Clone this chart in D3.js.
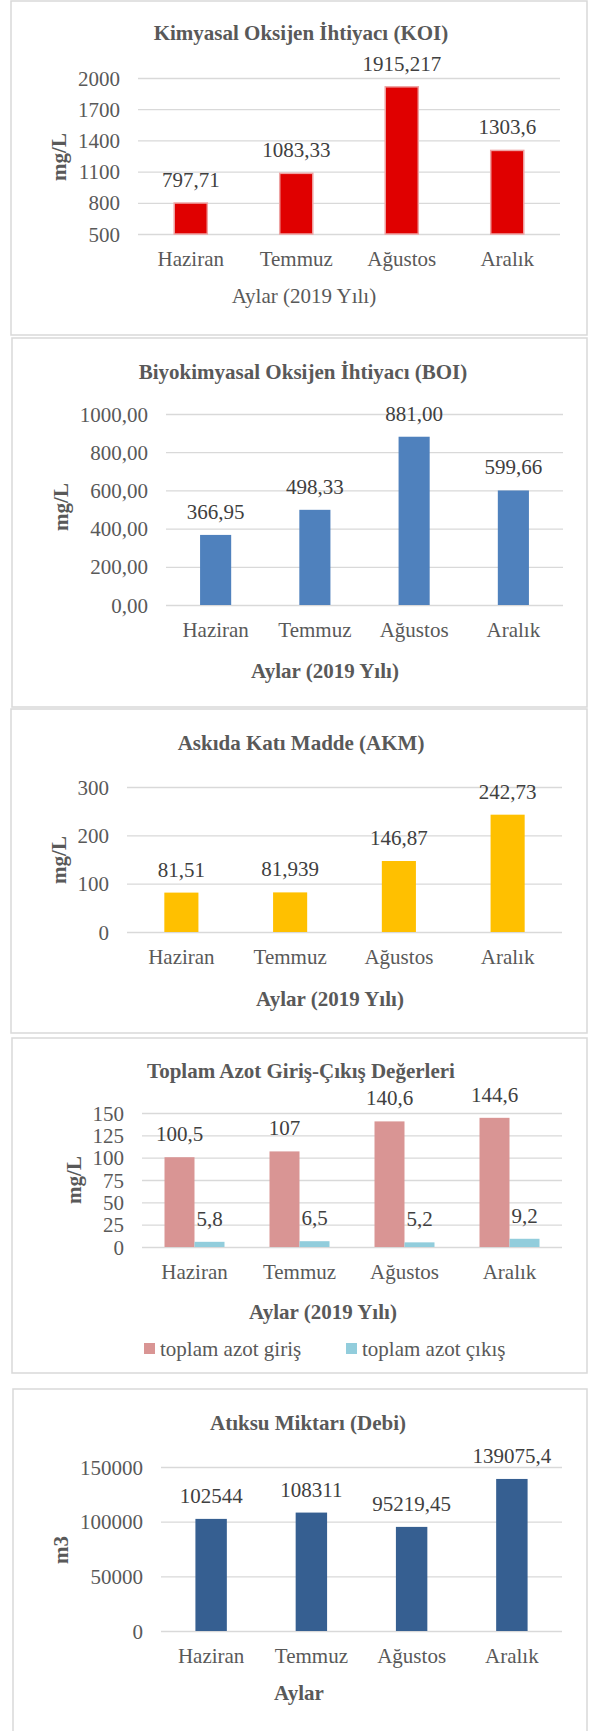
<!DOCTYPE html>
<html>
<head>
<meta charset="utf-8">
<script src="https://cdn.jsdelivr.net/npm/d3@7"></script>
<style>
body { margin: 0; background: #fff; }
svg text { font-family: "Liberation Serif", "Times New Roman", serif; }
</style>
</head>
<body>
<div id="chart"></div>
<script>
var months = ["Haziran", "Temmuz", "Ağustos", "Aralık"];

var koiValues = [797.71, 1083.33, 1915.217, 1303.6];
var koiTicks  = [500, 800, 1100, 1400, 1700, 2000];

var boiValues = [366.95, 498.33, 881.00, 599.66];
var boiTicks  = [0, 200, 400, 600, 800, 1000];

var akmValues = [81.51, 81.939, 146.87, 242.73];
var akmTicks  = [0, 100, 200, 300];

var azotGiris  = [100.5, 107, 140.6, 144.6];
var azotCikis  = [5.8, 6.5, 5.2, 9.2];
var azotTicks  = [0, 25, 50, 75, 100, 125, 150];
var azotSeries = ["toplam azot giriş", "toplam azot çıkış"];

var debiValues = [102544, 108311, 95219.45, 139075.4];
var debiTicks  = [0, 50000, 100000, 150000];

var width = 594, height = 1731;
var fontSize = 21;
var textGray = "#595959", labelGray = "#404040", gridGray = "#d9d9d9";

function comma(v) { return String(v).replace(".", ","); }
function comma2(v) { return v.toFixed(2).replace(".", ","); }

var svg = d3.select("#chart")
    .append("svg")
    .attr("width", width)
    .attr("height", height);

var panels = [
    { box: [11, 1, 587, 335], title: "Kimyasal Oksijen İhtiyacı (KOI)", titleX: 301, titleY: 33,
      left: 138, right: 560, top: 78, bottom: 234, ticks: koiTicks, tickFmt: String,
      yTitle: "mg/L", yTitleX: 59, yTitleY: 157,
      xTitle: "Aylar (2019 Yılı)", xTitleBold: false, xTitleX: 304, xTitleY: 296,
      series: [{ values: koiValues, color: "#e00000", stroke: "#eea3a3", fmt: comma }], group: 1 / 3.19 },
    { box: [12, 338, 587, 707], title: "Biyokimyasal Oksijen İhtiyacı (BOI)", titleX: 303, titleY: 372,
      left: 166, right: 563, top: 414, bottom: 605, ticks: boiTicks, tickFmt: comma2,
      yTitle: "mg/L", yTitleX: 61, yTitleY: 507,
      xTitle: "Aylar (2019 Yılı)", xTitleBold: true, xTitleX: 325, xTitleY: 671,
      series: [{ values: boiValues, color: "#4f81bd", fmt: comma2 }], group: 1 / 3.19 },
    { box: [11, 709, 587, 1033], title: "Askıda Katı Madde (AKM)", titleX: 301, titleY: 743,
      left: 127, right: 562, top: 787, bottom: 932, ticks: akmTicks, tickFmt: String,
      yTitle: "mg/L", yTitleX: 59, yTitleY: 860,
      xTitle: "Aylar (2019 Yılı)", xTitleBold: true, xTitleX: 330, xTitleY: 999,
      series: [{ values: akmValues, color: "#ffc000", fmt: comma }], group: 1 / 3.19 },
    { box: [12, 1038, 587, 1373], title: "Toplam Azot Giriş-Çıkış Değerleri", titleX: 301, titleY: 1071,
      left: 142, right: 562, top: 1113, bottom: 1247, ticks: azotTicks, tickFmt: String,
      yTitle: "mg/L", yTitleX: 74, yTitleY: 1180,
      xTitle: "Aylar (2019 Yılı)", xTitleBold: true, xTitleX: 323, xTitleY: 1312,
      series: [{ name: azotSeries[0], values: azotGiris, color: "#d99594", fmt: comma },
               { name: azotSeries[1], values: azotCikis, color: "#92cddc", fmt: comma }],
      group: 1 / 1.75, legendY: 1343, legendX: [144, 346] },
    { box: [13, 1389, 587, 1745], title: "Atıksu Miktarı (Debi)", titleX: 308, titleY: 1423,
      left: 161, right: 562, top: 1467, bottom: 1631, ticks: debiTicks, tickFmt: String,
      yTitle: "m3", yTitleX: 61, yTitleY: 1550,
      xTitle: "Aylar", xTitleBold: true, xTitleX: 299, xTitleY: 1693,
      series: [{ values: debiValues, color: "#365f91", fmt: comma }], group: 1 / 3.19 }
];

panels.forEach(drawPanel);

function drawPanel(p) {
    var g = svg.append("g").attr("class", "panel");

    g.append("rect")
        .attr("x", p.box[0]).attr("y", p.box[1])
        .attr("width", p.box[2] - p.box[0]).attr("height", p.box[3] - p.box[1])
        .attr("fill", "#fff")
        .attr("stroke", gridGray)
        .attr("stroke-width", 1.5);

    var x = d3.scaleBand()
        .domain(months)
        .range([p.left, p.right]);

    var y = d3.scaleLinear()
        .domain([p.ticks[0], p.ticks[p.ticks.length - 1]])
        .range([p.bottom, p.top]);

    var groupW = x.bandwidth() * p.group;
    var x1 = d3.scaleBand()
        .domain(d3.range(p.series.length))
        .range([0, groupW]);

    var yAxis = d3.axisLeft(y)
        .tickValues(p.ticks)
        .tickFormat(p.tickFmt)
        .tickSizeInner(-(p.right - p.left))
        .tickSizeOuter(0)
        .tickPadding(18);

    var axisY = g.append("g")
        .attr("class", "y axis")
        .attr("transform", "translate(" + p.left + ",0)")
        .call(yAxis);
    axisY.select(".domain").remove();
    axisY.selectAll("line").attr("stroke", gridGray).attr("stroke-width", 1.3);
    axisY.selectAll("text")
        .attr("fill", textGray)
        .style("font-size", fontSize + "px")
        .attr("dy", "0.34em");

    var xAxis = d3.axisBottom(x).tickSize(0).tickPadding(17);
    var axisX = g.append("g")
        .attr("class", "x axis")
        .attr("transform", "translate(0," + p.bottom + ")")
        .call(xAxis);
    axisX.select(".domain").remove();
    axisX.selectAll("text")
        .attr("fill", textGray)
        .style("font-size", fontSize + "px");

    p.series.forEach(function(s, si) {
        var bar = g.selectAll(".bar-" + si)
            .data(s.values)
            .enter().append("g").attr("class", "bar-group bar-" + si);

        function bx(d, i) {
            return x(months[i]) + (x.bandwidth() - groupW) / 2 + x1(si);
        }

        bar.append("rect")
            .attr("x", function(d, i) { return bx(d, i); })
            .attr("width", x1.bandwidth())
            .attr("y", function(d) { return y(d); })
            .attr("height", function(d) { return p.bottom - y(d); })
            .attr("fill", s.color)
            .attr("stroke", s.stroke || "none")
            .attr("stroke-width", s.stroke ? 1.5 : 0);

        bar.append("text")
            .attr("x", function(d, i) { return bx(d, i) + x1.bandwidth() / 2; })
            .attr("y", function(d) { return y(d) - 16; })
            .attr("text-anchor", "middle")
            .attr("fill", labelGray)
            .style("font-size", fontSize + "px")
            .text(function(d) { return s.fmt(d); });
    });

    g.append("text")
        .attr("x", p.titleX)
        .attr("y", p.titleY)
        .attr("dy", "0.34em")
        .attr("text-anchor", "middle")
        .attr("fill", textGray)
        .style("font-size", fontSize + "px")
        .style("font-weight", "bold")
        .text(p.title);

    g.append("text")
        .attr("transform", "translate(" + p.yTitleX + "," + p.yTitleY + ") rotate(-90)")
        .attr("dy", "0.34em")
        .attr("text-anchor", "middle")
        .attr("fill", textGray)
        .style("font-size", fontSize + "px")
        .style("font-weight", "bold")
        .text(p.yTitle);

    g.append("text")
        .attr("x", p.xTitleX)
        .attr("y", p.xTitleY)
        .attr("dy", "0.34em")
        .attr("text-anchor", "middle")
        .attr("fill", textGray)
        .style("font-size", fontSize + "px")
        .style("font-weight", p.xTitleBold ? "bold" : "normal")
        .text(p.xTitle);

    if (p.legendX) {
        var legend = g.selectAll(".legend")
            .data(p.series)
            .enter().append("g").attr("class", "legend")
            .attr("transform", function(d, i) { return "translate(" + p.legendX[i] + "," + p.legendY + ")"; });

        legend.append("rect")
            .attr("width", 11).attr("height", 11)
            .attr("fill", function(d) { return d.color; });

        legend.append("text")
            .attr("x", 16)
            .attr("y", 5.5)
            .attr("dy", "0.34em")
            .attr("fill", textGray)
            .style("font-size", fontSize + "px")
            .text(function(d) { return d.name; });
    }
}
</script>
</body>
</html>
